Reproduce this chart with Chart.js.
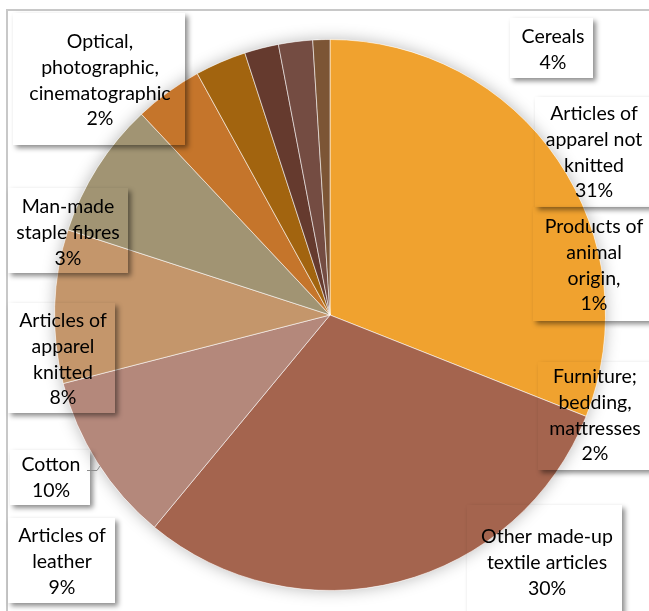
<!DOCTYPE html>
<html>
<head>
<meta charset="utf-8">
<script src="https://cdn.jsdelivr.net/npm/chart.js@4.4.1/dist/chart.umd.min.js"></script>
<style>
  html, body { margin: 0; padding: 0; background: #fff; }
  #wrap { position: relative; width: 649px; height: 611px; }
</style>
</head>
<body>
<div id="wrap"><canvas id="pieChart"></canvas></div>
<script>
// categories, clockwise from 12 o'clock
const categories = [
    'Articles of\napparel not\nknitted',
    'Other made-up\ntextile articles',
    'Cotton',
    'Articles of\nleather',
    'Articles of\napparel\nknitted',
    'Cereals',
    'Man-made\nstaple fibres',
    'Optical,\nphotographic,\ncinematographic',
    'Furniture;\nbedding,\nmattresses',
    'Products of\nanimal\norigin,'
];
const shares = [31, 30, 10, 9, 8, 4, 3, 2, 2, 1];
const sliceColors = [
    '#F0A22F', '#A4644E', '#B4887B', '#C4966B', '#A19473',
    '#C5752B', '#A2640F', '#653A2E', '#744C42', '#7C5535'
];

// label boxes: [x, y, w, h, text centre x, first baseline]
const labelBoxes = [
    [535, 97, 125, 110, 594, 120],
    [467, 505, 155, 115, 547, 543],
    [10, 450, 80, 55, 51, 471],
    [8, 518, 107, 85, 62, 542],
    [8, 303, 107, 110, 63, 327],
    [510, 18, 83, 60, 553, 43],
    [8, 188, 120, 85, 68, 213],
    [13, 13, 172, 132, 100, 48],
    [538, 362, 122, 108, 595, 383],
    [533, 207, 127, 114, 594, 233]
];
const LINE_H = 25.8;

const total = shares.reduce((a, b) => a + b, 0);

const frameAndShadow = {
    id: 'frameAndShadow',
    beforeDatasetsDraw(chart) {
        const ctx = chart.ctx;
        ctx.save();
        ctx.strokeStyle = '#c8c8c8';
        ctx.lineWidth = 2;
        ctx.strokeRect(7, 10, 800, 800);
        const arc = chart.getDatasetMeta(0).data[0];
        if (arc) {
            ctx.shadowColor = 'rgba(0,0,0,0.28)';
            ctx.shadowBlur = 16;
            ctx.fillStyle = '#fff';
            ctx.beginPath();
            ctx.arc(arc.x, arc.y, arc.outerRadius, 0, Math.PI * 2);
            ctx.fill();
        }
        ctx.restore();
    }
};

const boxLabels = {
    id: 'boxLabels',
    afterDatasetsDraw(chart) {
        const ctx = chart.ctx;
        const W = chart.width, H = chart.height;

        // shadows of the label boxes (box itself has no fill)
        labelBoxes.forEach(b => {
            const [x, y, w, h] = b;
            ctx.save();
            ctx.beginPath();
            ctx.rect(0, 0, W, H);
            ctx.rect(x, y, w, h);
            ctx.clip('evenodd');
            ctx.shadowColor = 'rgba(0,0,0,0.45)';
            ctx.shadowBlur = 5;
            ctx.shadowOffsetX = 2000 + 3;
            ctx.shadowOffsetY = 3;
            ctx.fillStyle = '#000';
            ctx.fillRect(x - 2000, y, w, h);
            ctx.restore();
        });

        // leader line of Cotton
        ctx.save();
        ctx.strokeStyle = '#8c8c8c';
        ctx.lineWidth = 1;
        ctx.beginPath();
        ctx.moveTo(87, 470.5);
        ctx.lineTo(97, 470.5);
        ctx.lineTo(100, 466);
        ctx.stroke();
        ctx.restore();

        // texts
        ctx.save();
        ctx.font = '19.5px Lato';
        ctx.fillStyle = '#000';
        ctx.textAlign = 'center';
        ctx.textBaseline = 'alphabetic';
        categories.forEach((name, i) => {
            const lines = name.split('\n');
            lines.push(Math.round(shares[i] / total * 100) + '%');
            const cx = labelBoxes[i][4];
            const by = labelBoxes[i][5];
            lines.forEach((ln, k) => ctx.fillText(ln, cx, by + k * LINE_H));
        });
        ctx.restore();
    }
};

new Chart(document.getElementById('pieChart'), {
    type: 'pie',
    data: {
        labels: categories.map(c => c.replace(/\n/g, ' ')),
        datasets: [{
            data: shares,
            backgroundColor: sliceColors,
            borderColor: 'rgba(255,255,255,0.55)',
            borderWidth: 1
        }]
    },
    options: {
        responsive: true,
        maintainAspectRatio: false,
        animation: false,
        layout: { padding: { left: 54, right: 43, top: 39, bottom: 20 } },
        plugins: {
            legend: { display: false },
            tooltip: { enabled: false }
        }
    },
    plugins: [frameAndShadow, boxLabels]
});
</script>
</body>
</html>
